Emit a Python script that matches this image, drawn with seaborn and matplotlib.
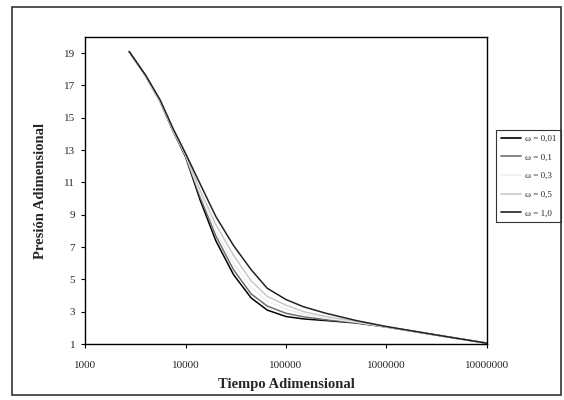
import matplotlib
matplotlib.use("Agg")
import matplotlib.pyplot as plt
import matplotlib.patches as mpatches
import seaborn as sns
import pandas as pd

tiempo = [2750, 4000, 5600, 7500, 10000, 14000, 20000, 30000, 45000, 65000,
          100000, 150000, 250000, 500000, 1000000, 3000000, 10000000]
p_001 = [19.1, 17.6, 16.0, 14.2, 12.6, 9.9, 7.4, 5.3, 3.85, 3.1, 2.7, 2.55, 2.45, 2.3, 2.05, 1.57, 1.05]
p_01 = [19.1, 17.6, 16.0, 14.2, 12.65, 10.1, 7.7, 5.6, 4.1, 3.35, 2.9, 2.68, 2.5, 2.32, 2.05, 1.57, 1.05]
p_03 = [19.1, 17.6, 16.0, 14.25, 12.7, 10.3, 8.0, 6.0, 4.5, 3.65, 3.15, 2.85, 2.6, 2.35, 2.05, 1.57, 1.05]
p_05 = [19.1, 17.6, 16.05, 14.3, 12.75, 10.5, 8.4, 6.5, 4.9, 3.95, 3.4, 3.0, 2.7, 2.4, 2.06, 1.57, 1.05]
p_10 = [19.1, 17.65, 16.1, 14.35, 12.8, 10.9, 8.9, 7.1, 5.6, 4.45, 3.75, 3.3, 2.9, 2.45, 2.08, 1.58, 1.05]

labels = ["ω = 0,01", "ω = 0,1", "ω = 0,3", "ω = 0,5", "ω = 1,0"]
series = [p_001, p_01, p_03, p_05, p_10]
colors = ["#000000", "#6e6e6e", "#eeeeee", "#c8c8c8", "#222222"]

xticks = [1000, 10000, 100000, 1000000, 10000000]
xticklabels = ["1000", "10000", "100000", "1000000", "10000000"]
yticks = [1, 3, 5, 7, 9, 11, 13, 15, 17, 19]

rows = []
for lab, vals in zip(labels, series):
    for t, p in zip(tiempo, vals):
        rows.append({"t": t, "p": p, "omega": lab})
df = pd.DataFrame(rows)

sns.set_style("white")
plt.rcParams["font.family"] = ["Liberation Serif", "DejaVu Serif"]

fig = plt.figure(figsize=(5.64, 4.0), dpi=100)
ax = fig.add_axes([85/564, 56/400, (487-85)/564, (344-37)/400])

sns.lineplot(data=df, x="t", y="p", hue="omega", hue_order=labels,
             palette=dict(zip(labels, colors)), linewidth=1.1, ax=ax,
             estimator=None, sort=True)

ax.set_xscale("log")
ax.set_xlim(1000, 10000000)
ax.set_ylim(1, 20)
ax.set_xticks(xticks)
ax.set_xticklabels(xticklabels, fontsize=8)
ax.minorticks_off()
ax.set_yticks(yticks)
ax.set_yticklabels([str(v) for v in yticks], fontsize=8)
ax.tick_params(axis="both", direction="out", length=3, width=0.8, color="black",
               bottom=True, left=True, pad=4)
ax.tick_params(axis="x", pad=9)
for s in ax.spines.values():
    s.set_color("black")
    s.set_linewidth(1.0)

ax.set_xlabel("Tiempo Adimensional", fontsize=10.5, fontweight="bold", labelpad=6)
ax.set_ylabel("Presión Adimensional", fontsize=10.5, fontweight="bold", labelpad=12)

leg = ax.legend(loc="upper left", bbox_to_anchor=(496/564, 1-130/400),
                bbox_transform=fig.transFigure, fontsize=6.5, frameon=True,
                fancybox=False, edgecolor="black", handlelength=2.3,
                borderpad=0.5, labelspacing=1.15, handletextpad=0.4,
                borderaxespad=0)
leg.get_frame().set_linewidth(0.8)
for h in leg.get_lines():
    h.set_linewidth(1.2)

fig.patches.append(mpatches.Rectangle((12/564, 5/400), (561-12)/564, (393-5)/400,
                                      transform=fig.transFigure, fill=False,
                                      edgecolor="#333333", linewidth=1.2))

fig.savefig("out.png", dpi=100)
